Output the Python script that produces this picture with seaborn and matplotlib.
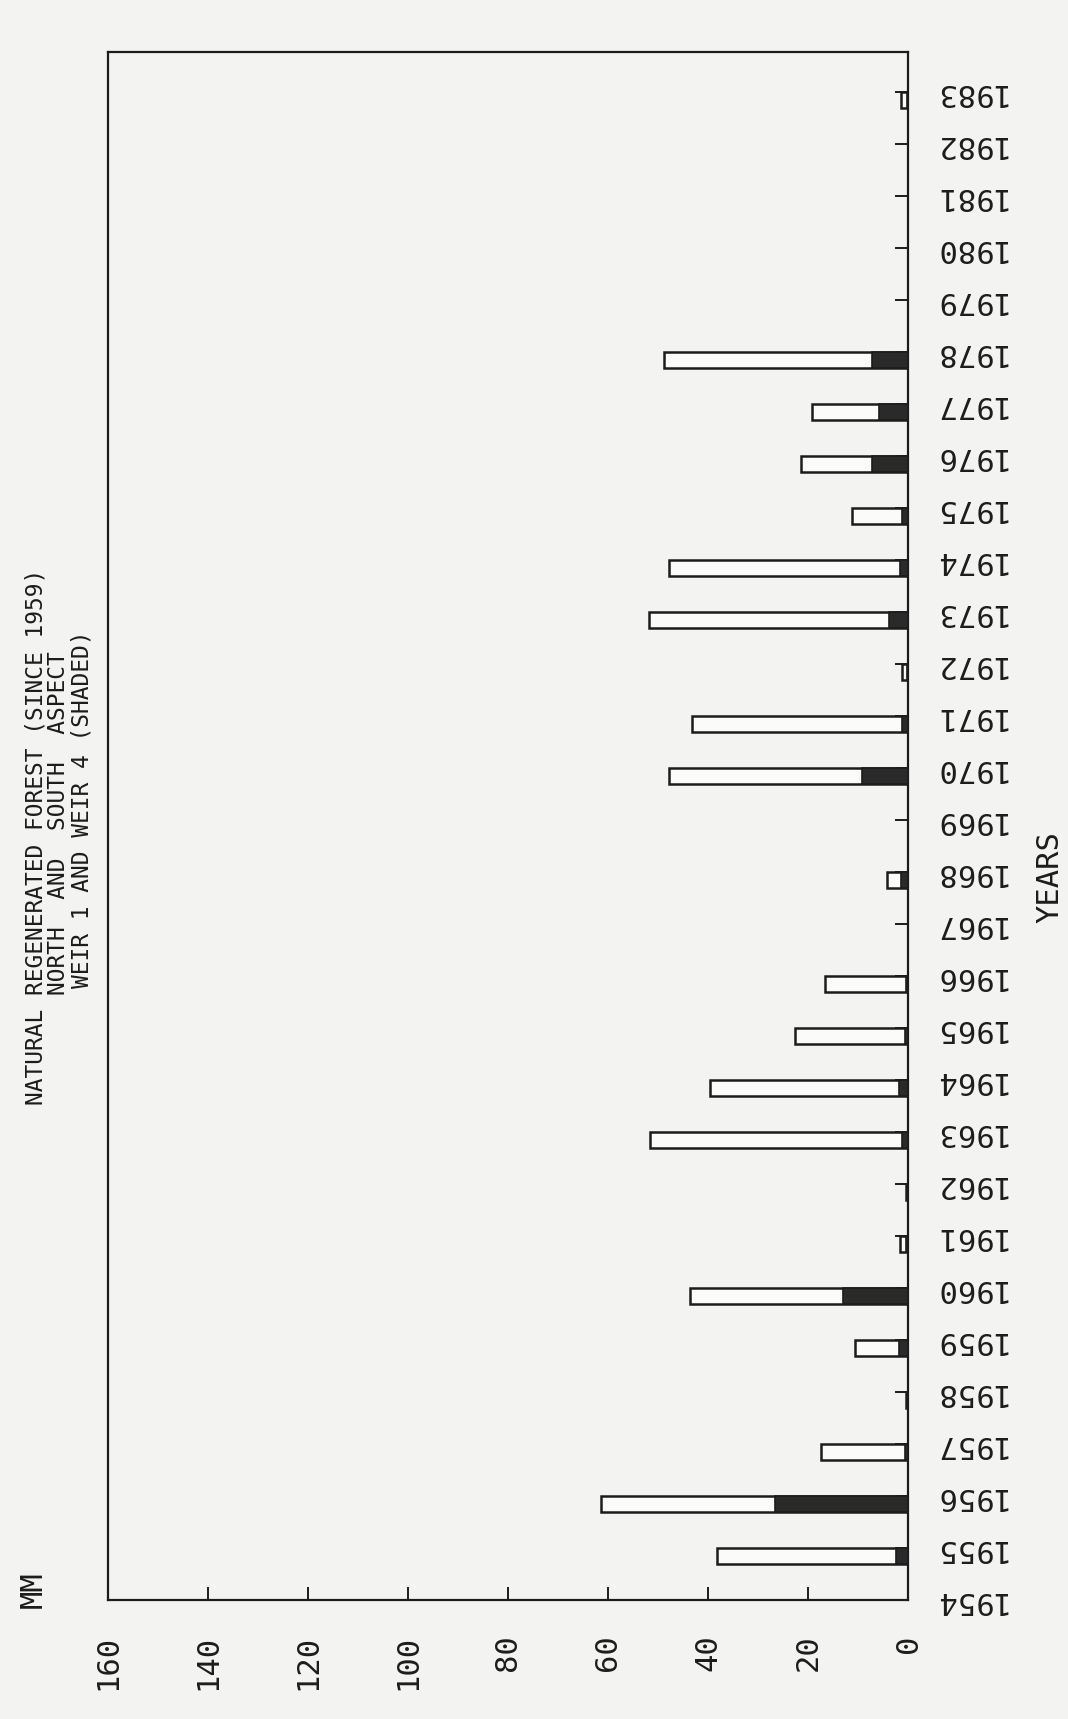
import matplotlib
matplotlib.use("Agg")
import matplotlib.pyplot as plt
import seaborn as sns
import numpy as np

# Annual runoff (mm): Weir 1 total and Weir 4 (shaded), 1954-1983
years = list(range(1954, 1984))
weir1_total = [0, 38.3, 61.5, 17.5, 0.4, 10.6, 43.6, 1.6, 0.4, 51.6,
               39.6, 22.7, 16.6, 0, 4.3, 0, 47.9, 43.3, 1.3, 51.9,
               47.9, 11.3, 21.4, 19.3, 48.9, 0, 0, 0, 0, 1.4]
weir4_shaded = [0, 2.4, 26.6, 0.6, 0, 1.8, 13.1, 0.4, 0, 1.3,
                1.9, 0.6, 0.5, 0, 1.5, 0, 9.3, 1.3, 0.3, 3.9,
                1.7, 1.3, 7.3, 5.9, 7.3, 0, 0, 0, 0, 0.3]
mm_ticks = [0, 20, 40, 60, 80, 100, 120, 140, 160]
title_lines = ["NATURAL REGENERATED FOREST (SINCE 1959)",
               "NORTH  AND  SOUTH  ASPECT",
               "WEIR 1 AND WEIR 4 (SHADED)"]

sns.set_theme(style="white")
paper = "#f3f4f2"
ink = "#1c1c1c"
plt.rcParams["font.family"] = ["DejaVu Sans Mono", "DejaVu Sans"]

W, H = 1068, 1719
fig = plt.figure(figsize=(W / 100, H / 100), dpi=100, facecolor=paper)
ax = fig.add_axes([108 / W, 1 - 1600 / H, 800 / W, 1548 / H])
ax.set_facecolor(paper)

bar_h = -0.3
ax.barh(years, weir1_total, height=bar_h, align="edge",
        color="#fbfbf9", edgecolor=ink, linewidth=1.8, zorder=2)
ax.barh(years, weir4_shaded, height=bar_h, align="edge",
        color="#2a2a2a", edgecolor=ink, linewidth=1.2, zorder=3)

ax.set_xlim(160, 0)
ax.set_ylim(1954, 1983.77)

for s in ax.spines.values():
    s.set_color(ink)
    s.set_linewidth(1.6)

ax.set_xticks(mm_ticks)
ax.set_xticklabels([str(v) for v in mm_ticks], rotation=90, va="top",
                   ha="center", fontsize=22, color=ink)
ax.tick_params(axis="x", direction="in", length=9.5, width=1.4,
               color=ink, pad=25, bottom=True, top=False)

ax.yaxis.tick_right()
ax.set_yticks(years)
ax.set_yticklabels([str(y) for y in years], rotation=180, va="center",
                   ha="left", fontsize=22, color=ink)
ax.tick_params(axis="y", direction="in", length=9.5, width=1.4,
               color=ink, pad=17, right=True, left=False)
ax.grid(False)

fig.text(33 / W, 1 - 1590 / H, "MM", rotation=90, ha="center", va="center",
         fontsize=22, color=ink)
fig.text(1050 / W, 1 - 877 / H, "YEARS", rotation=90, ha="center",
         va="center", fontsize=22, color=ink)

title_pos = [(36, 1105), (59, 995), (82, 988)]
for line, (px, py) in zip(title_lines, title_pos):
    fig.text(px / W, 1 - py / H, line, rotation=90, ha="center",
             va="bottom", fontsize=16.5, color=ink)

fig.savefig("out.png", dpi=100, facecolor=paper)
